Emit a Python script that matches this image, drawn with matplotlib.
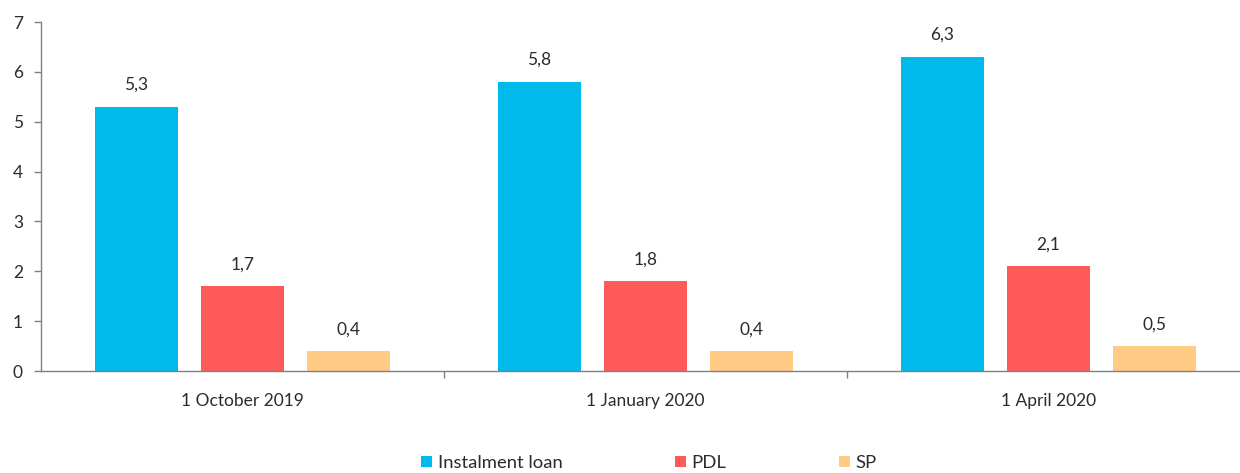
import matplotlib
matplotlib.use("Agg")
import matplotlib.pyplot as plt
import numpy as np

plt.rcParams['font.family'] = ['Lato', 'DejaVu Sans']

categories = ["1 October 2019", "1 January 2020", "1 April 2020"]
series_names = ["Instalment loan", "PDL", "SP"]
instalment_loan = [5.3, 5.8, 6.3]
pdl = [1.7, 1.8, 2.1]
sp = [0.4, 0.4, 0.5]
colors = ["#00BAEC", "#FF5A5A", "#FFCB85"]
y_ticks = [0, 1, 2, 3, 4, 5, 6, 7]

W, H = 1240, 473
fig = plt.figure(figsize=(W / 100, H / 100), dpi=100)
ax = fig.add_axes([41 / W, 1 - 371 / H, (1250 - 41) / W, (371 - 22) / H])

x = np.arange(len(categories))
width = 0.206
step = 0.263
text_color = "#2b2b2b"
axis_color = "#808080"

for i, (name, vals, c) in enumerate(zip(series_names, [instalment_loan, pdl, sp], colors)):
    pos = x + (i - 1) * step
    ax.bar(pos, vals, width=width, color=c, label=name)
    for p, v in zip(pos, vals):
        ax.annotate(f"{v:.1f}".replace(".", ","), (p, v), xytext=(0, 10),
                    textcoords="offset points", ha="center", va="bottom",
                    fontsize=12.5, color=text_color)

ax.set_xlim(-0.5, 2.5)
ax.set_ylim(0, 7)
ax.set_yticks(y_ticks)
ax.set_yticklabels([str(t) for t in y_ticks], fontsize=12.5, color=text_color)

# category labels centered, ticks at category boundaries
ax.set_xticks([0.5, 1.5])
ax.set_xticklabels([])
ax.set_xticks(x, minor=True)
ax.set_xticklabels(categories, minor=True, fontsize=12.5, color=text_color)
ax.tick_params(axis="x", which="minor", length=0, pad=16)
ax.tick_params(axis="x", which="major", length=5, color=axis_color, width=1)
ax.tick_params(axis="y", length=5, color=axis_color, width=1, pad=8)

for s in ["top", "right"]:
    ax.spines[s].set_visible(False)
for s in ["left", "bottom"]:
    ax.spines[s].set_color(axis_color)
    ax.spines[s].set_linewidth(1)

leg = fig.legend(loc="center", bbox_to_anchor=(649 / W, 1 - 463 / H), ncol=3,
                 frameon=False, fontsize=13.3, handlelength=0.6, handleheight=0.6,
                 handletextpad=0.3, columnspacing=6.1, borderpad=0)
for t in leg.get_texts():
    t.set_color(text_color)

fig.savefig("out.png", dpi=100)
